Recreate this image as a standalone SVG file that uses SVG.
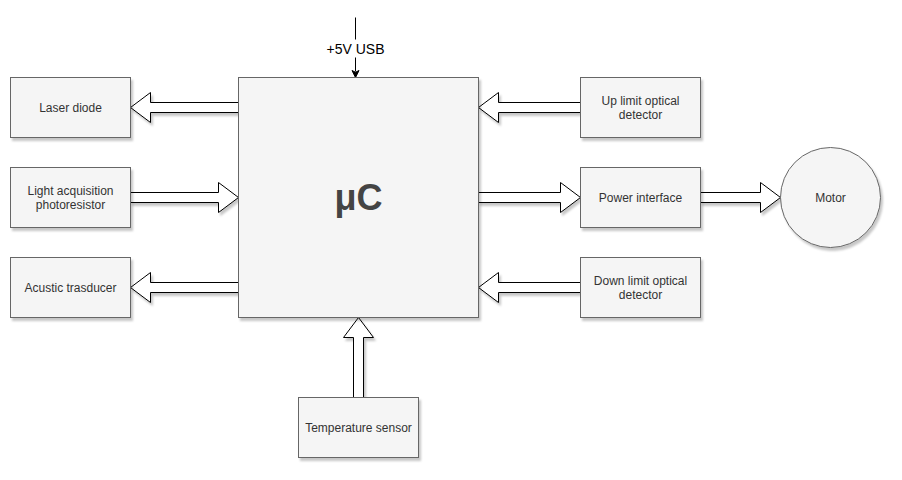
<svg xmlns="http://www.w3.org/2000/svg" width="902" height="480" viewBox="0 0 902 480">
<style>
.box{fill:#f5f5f5;stroke:#666666;stroke-width:1;filter:url(#sh)}
.t{font-family:"Liberation Sans",Arial,sans-serif;font-size:12px;fill:#333333;text-anchor:middle}
.big{font-family:"Liberation Sans",Arial,sans-serif;font-size:36px;font-weight:bold;fill:#444444;text-anchor:middle}
.arr{fill:#ffffff;stroke:#000000;stroke-width:1;stroke-linejoin:miter;filter:url(#sh)}
.lbl{font-family:"Liberation Sans",Arial,sans-serif;font-size:14px;fill:#000000;text-anchor:middle}
</style>
<defs>
<filter id="sh" x="-20%" y="-20%" width="140%" height="140%">
<feDropShadow dx="2" dy="3" stdDeviation="1.2" flood-color="#000000" flood-opacity="0.22"/>
</filter>
</defs>
<rect width="902" height="480" fill="#ffffff"/>
<g transform="translate(0.5,0.5)">
<g id="connectors">
<path class="arr" d="M130,107 L150,92 L150,102 L238,102 L238,112 L150,112 L150,122 Z"/>
<path class="arr" d="M130,192 L218,192 L218,182 L238,197 L218,212 L218,202 L130,202 Z"/>
<path class="arr" d="M130,287 L150,272 L150,282 L238,282 L238,292 L150,292 L150,302 Z"/>
<path class="arr" d="M478,107 L498,92 L498,102 L580,102 L580,112 L498,112 L498,122 Z"/>
<path class="arr" d="M478,192 L560,192 L560,182 L580,197 L560,212 L560,202 L478,202 Z"/>
<path class="arr" d="M700,192 L760,192 L760,182 L780,197 L760,212 L760,202 L700,202 Z"/>
<path class="arr" d="M478,287 L498,272 L498,282 L580,282 L580,292 L498,292 L498,302 Z"/>
<path class="arr" d="M358,317 L373,337 L363,337 L363,397 L353,397 L353,337 L343,337 Z"/>
<g id="usb">
<line x1="355" y1="17" x2="355" y2="71" stroke="#000000" stroke-width="1"/>
<path d="M355,77 L351.5,70 L355,71.75 L358.5,70 Z" fill="#000000" stroke="#000000" stroke-width="1"/>
<rect x="324" y="39" width="62" height="18" fill="#ffffff"/>
<text class="lbl" x="355" y="53">+5V USB</text>
</g>
</g>
<g id="uc"><rect class="box" x="238" y="77" width="240" height="240"/><text class="big" x="358" y="209">μC</text></g>
<g id="laser"><rect class="box" x="10" y="77" width="120" height="60"/><text class="t" x="70" y="111">Laser diode</text></g>
<g id="light"><rect class="box" x="10" y="167" width="120" height="60"/><text class="t" x="70" y="194">Light acquisition</text><text class="t" x="70" y="208">photoresistor</text></g>
<g id="acustic"><rect class="box" x="10" y="257" width="120" height="60"/><text class="t" x="70" y="291">Acustic trasducer</text></g>
<g id="uplimit"><rect class="box" x="580" y="77" width="120" height="60"/><text class="t" x="640" y="104">Up limit optical</text><text class="t" x="640" y="118">detector</text></g>
<g id="power"><rect class="box" x="580" y="167" width="120" height="60"/><text class="t" x="640" y="201">Power interface</text></g>
<g id="downlimit"><rect class="box" x="580" y="257" width="120" height="60"/><text class="t" x="640" y="284">Down limit optical</text><text class="t" x="640" y="298">detector</text></g>
<g id="motor"><circle class="box" cx="830" cy="197" r="50"/><text class="t" x="830" y="201">Motor</text></g>
<g id="temp"><rect class="box" x="298" y="397" width="120" height="60"/><text class="t" x="358" y="431">Temperature sensor</text></g>
</g>
</svg>
